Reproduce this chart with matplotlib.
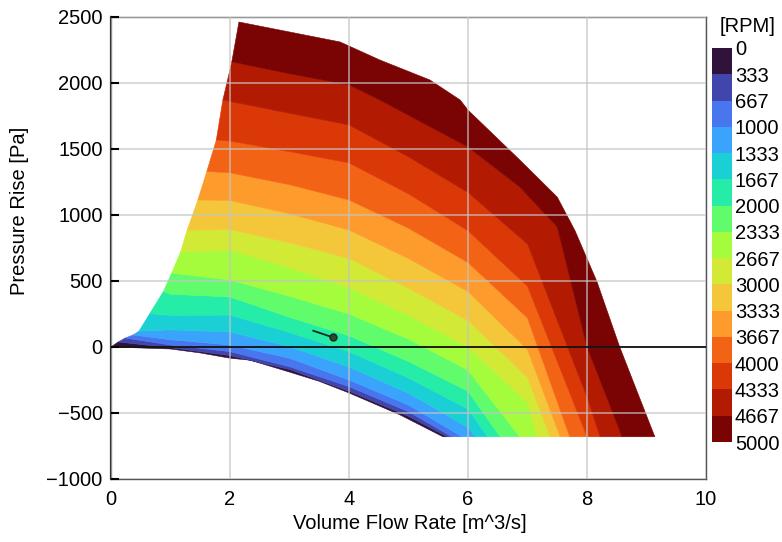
import numpy as np
import matplotlib
matplotlib.use("Agg")
import matplotlib.pyplot as plt
from matplotlib.colors import ListedColormap, BoundaryNorm
from matplotlib.cm import ScalarMappable

plt.rcParams['font.family'] = ['Liberation Sans', 'DejaVu Sans']

# speed levels of the map [RPM]
rpm_levels = np.linspace(0, 5000, 16)

# iso-speed lines, each from the surge line down to the bottom cut at -680 Pa
q_lines = [
    [0, 1, 1.5, 2, 2.34, 3, 3.5, 4, 4.86, 5.58],
    [0.12, 1, 2, 3, 4, 5, 5.65],
    [0.24, 1, 2, 3, 4, 5, 5.73],
    [0.37, 1, 2, 3, 4, 5, 5.9],
    [0.47, 1, 2, 3, 4, 5, 6, 6.12],
    [0.65, 1, 2, 3, 4, 5, 6, 6.33],
    [0.88, 1, 2, 3, 4, 5, 6, 6.54],
    [1.02, 2, 3, 4, 5, 6, 6.87],
    [1.17, 2, 3, 4, 5, 6, 7, 7.17],
    [1.28, 2, 3, 4, 5, 6, 7, 7.38],
    [1.46, 2, 3, 4, 5, 6, 7, 7.55],
    [1.61, 2, 3, 4, 5, 6, 7, 7.71],
    [1.77, 2, 3, 4, 5, 6, 7, 8.0],
    [1.88, 2, 3, 4, 5, 6, 7, 8, 8.22],
    [2.03, 3, 4, 4.52, 6, 6.87, 7.5, 8.0, 8.59],
    [2.15, 3.85, 4.52, 5.36, 5.87, 6.0, 6.87, 7.5, 7.8, 8.17, 8.55, 9.14],
]
p_lines = [
    [0, -15, -45, -85, -100, -190, -260, -348, -515, -680],
    [38, -5, -65, -170, -335, -525, -680],
    [68, 15, -35, -149, -300, -490, -680],
    [91, 55, 15, -85, -250, -440, -680],
    [120, 130, 114, 2, -152, -350, -610, -680],
    [252, 240, 242, 110, -35, -235, -470, -680],
    [420, 400, 379, 225, 85, -110, -335, -680],
    [560, 508, 385, 250, 60, -175, -680],
    [720, 735, 600, 450, 240, 0, -420, -680],
    [886, 890, 790, 670, 445, 200, -230, -680],
    [1114, 1110, 1010, 886, 670, 420, -20, -680],
    [1330, 1320, 1230, 1114, 900, 640, 220, -680],
    [1568, 1560, 1480, 1394, 1160, 880, 460, -680],
    [1871, 1860, 1770, 1682, 1440, 1170, 780, -380, -680],
    [2160, 2070, 1985, 1871, 1515, 1212, 909, 0, -680],
    [2462, 2311, 2174, 2023, 1871, 1795, 1417, 1136, 880, 492, 0, -680],
]

# operating point and its short trail
op_q = [3.40, 3.73]
op_p = [123, 73]

cmap = ListedColormap(plt.get_cmap('turbo')(np.linspace(0, 1, 15)))
norm = BoundaryNorm(rpm_levels, cmap.N)

fig = plt.figure(figsize=(7.82, 5.42), dpi=100)
ax = fig.add_axes([111 / 782, 63 / 542, 595 / 782, 462 / 542])

# fill each speed band between two neighbouring iso-speed lines
for i in range(15):
    bq = list(q_lines[i]) + list(q_lines[i + 1])[::-1]
    bp = list(p_lines[i]) + list(p_lines[i + 1])[::-1]
    c = cmap(i)
    ax.fill(bq, bp, facecolor=c, edgecolor=c, lw=0.4, zorder=1)

ax.axhline(0, color='black', lw=1.2, zorder=3)
ax.plot(op_q, op_p, color='#1a2a1a', lw=1.3, zorder=4)
ax.plot(op_q[-1], op_p[-1], 'o', ms=5, mfc='#2e4a2e', mec='#1a2a1a', mew=1, zorder=5)

ax.set_xlim(0, 10)
ax.set_ylim(-1000, 2500)
ax.set_xticks(np.arange(0, 11, 2))
ax.set_yticks(np.arange(-1000, 2501, 500))
ax.set_axisbelow(False)
ax.grid(True, color='#c4c4c4', lw=1.2, alpha=0.75)
ax.tick_params(axis='y', direction='in', length=6, width=1.5, labelsize=14.5, pad=6)
ax.tick_params(axis='x', length=0, labelsize=14.5, pad=8)
for s in ['top', 'right', 'bottom']:
    ax.spines[s].set_color('#555555')
    ax.spines[s].set_linewidth(1.0)
ax.spines['left'].set_color('#333333')
ax.spines['left'].set_linewidth(1.6)

ax.set_xlabel('Volume Flow Rate [m^3/s]', fontsize=14.5)
ax.xaxis.set_label_coords(0.503, -0.075)
ax.set_ylabel('Pressure Rise [Pa]', fontsize=14.5)
ax.yaxis.set_label_coords(-0.138, 0.58)

# discrete speed colour bar, 0 at the top
cax = fig.add_axes([712 / 782, 100 / 542, 20 / 782, 394 / 542])
sm = ScalarMappable(norm=norm, cmap=cmap)
cb = fig.colorbar(sm, cax=cax, ticks=rpm_levels)
cb.outline.set_visible(False)
cax.invert_yaxis()
cax.set_yticklabels([f'{v:.0f}' for v in rpm_levels])
cax.tick_params(length=0, labelsize=14.5, pad=2)
fig.text(748 / 782, 1 - 26 / 542, '[RPM]', fontsize=14.5, ha='center', va='center')

fig.savefig('out.png', dpi=100)
